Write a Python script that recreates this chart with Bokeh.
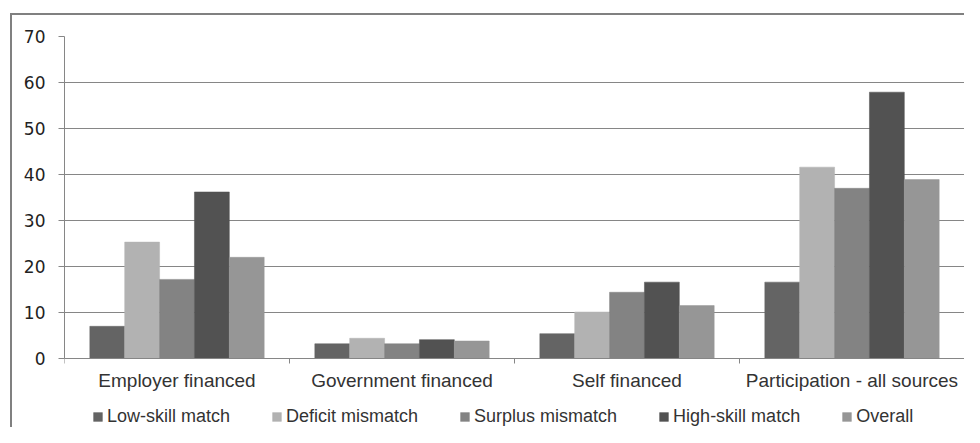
from bokeh.plotting import figure
from bokeh.models import (ColumnDataSource, FixedTicker, Legend, LegendItem, Range1d)
from bokeh.embed import file_html
from bokeh.resources import INLINE

categories = ["Employer financed", "Government financed", "Self financed",
              "Participation - all sources"]
series_names = ["Low-skill match", "Deficit mismatch", "Surplus mismatch",
                "High-skill match", "Overall"]
low_skill = [7.0, 3.2, 5.4, 16.6]
deficit = [25.3, 4.4, 10.1, 41.6]
surplus = [17.2, 3.2, 14.4, 37.0]
high_skill = [36.2, 4.1, 16.6, 57.9]
overall = [22.0, 3.8, 11.5, 38.9]
y_ticks = [0, 10, 20, 30, 40, 50, 60, 70]

series_values = [low_skill, deficit, surplus, high_skill, overall]
colors = ["#646464", "#b2b2b2", "#838383", "#525252", "#969696"]

n = len(categories)
W, H = 964, 427
top_pad, bottom_pad = 36, 0
frame_h = H - top_pad - bottom_pad
px_per_unit = (358 - 36) / 70.0
y_min = -(frame_h - 70 * px_per_unit) / px_per_unit  # room for labels + legend

p = figure(width=W, height=H, output_backend="svg", toolbar_location=None,
           x_range=Range1d(0, n), y_range=Range1d(y_min, 70),
           min_border_left=64, min_border_right=0, min_border_top=top_pad,
           min_border_bottom=bottom_pad)
p.outline_line_color = None
p.background_fill_color = "white"
p.border_fill_color = None
p.styles = {
    "background-color": "white",
    "background-image": "linear-gradient(#808080,#808080), linear-gradient(#808080,#808080)",
    "background-position": "10px 13px, 10px 13px",
    "background-size": "2px 420px, 960px 2px",
    "background-repeat": "no-repeat, no-repeat",
}

bar_w = 0.155
offsets = [-0.31, -0.155, 0.0, 0.155, 0.31]
renderers = []
for name, vals, col, off in zip(series_names, series_values, colors, offsets):
    src = ColumnDataSource(dict(x=[i + 0.5 + off for i in range(n)], top=vals))
    r = p.vbar(x="x", top="top", bottom=0, width=bar_w, source=src,
               fill_color=col, line_color=col, line_width=0.5)
    renderers.append((name, r))

# Y axis
p.yaxis.ticker = FixedTicker(ticks=y_ticks)
p.yaxis.bounds = (0, 70)
p.yaxis.axis_line_color = "#868686"
p.yaxis.major_tick_line_color = "#868686"
p.yaxis.major_tick_out = 6
p.yaxis.major_tick_in = 0
p.yaxis.minor_tick_line_color = None
p.yaxis.major_label_text_font = "DejaVu Sans"
p.yaxis.major_label_text_font_size = "17px"
p.yaxis.major_label_text_color = "#222222"
p.yaxis.major_label_standoff = 13

# X axis at y = 0: labels at category centers, ticks at boundaries
p.xaxis.fixed_location = 0
p.xaxis.ticker = FixedTicker(ticks=[i + 0.5 for i in range(n)],
                             minor_ticks=list(range(n + 1)))
p.xaxis.major_label_overrides = {i + 0.5: c for i, c in enumerate(categories)}
p.xaxis.axis_line_color = "#868686"
p.xaxis.major_tick_line_color = None
p.xaxis.major_tick_out = 0
p.xaxis.major_tick_in = 0
p.xaxis.minor_tick_line_color = "#868686"
p.xaxis.minor_tick_out = 5
p.xaxis.minor_tick_in = 0
p.xaxis.major_label_text_font = "Liberation Sans"
p.xaxis.major_label_text_font_size = "19px"
p.xaxis.major_label_text_color = "#333333"
p.xaxis.major_label_standoff = 6

p.xgrid.grid_line_color = None
p.ygrid.grid_line_color = "#868686"
p.ygrid.grid_line_width = 1

legend = Legend(items=[LegendItem(label=nm, renderers=[r]) for nm, r in renderers],
                orientation="horizontal", location=(28, 0),
                glyph_width=11, glyph_height=11, label_standoff=4, spacing=41,
                padding=0, margin=0, border_line_color=None,
                background_fill_alpha=0,
                label_text_font="Liberation Sans", label_text_font_size="18px",
                label_text_color="#333333")
p.add_layout(legend, "center")

open("out.html", "w").write(file_html(p, INLINE))
